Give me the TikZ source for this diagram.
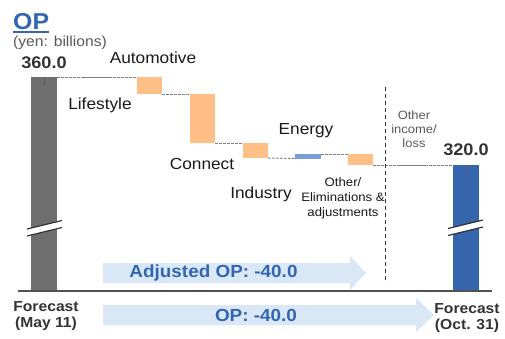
\documentclass[tikz,border=0pt]{standalone}
\usepackage{fontspec}
\setmainfont{Liberation Sans}[FakeStretch=1.08]
\usetikzlibrary{calc}
\definecolor{grayb}{HTML}{6E6E6E}
\definecolor{blueb}{HTML}{3565AC}
\definecolor{orangeb}{HTML}{FFBF86}
\definecolor{energyb}{HTML}{7A9DD6}
\definecolor{arrowfill}{HTML}{DAE7F7}
\definecolor{txtblue}{HTML}{3366B2}
\definecolor{darktxt}{HTML}{333333}
\definecolor{midgray}{HTML}{595959}
\definecolor{connc}{HTML}{808080}
\begin{document}
\begin{tikzpicture}[x=1pt,y=-1pt,
  bar/.style={draw=none,inner sep=0pt,outer sep=0pt,anchor=north west},
  conn/.style={draw=connc,line width=1pt,dash pattern=on 2.5pt off 1.5pt},
  connsolid/.style={draw=connc,line width=1pt},
  tickmark/.style={draw=darktxt!80,line width=1pt},
  breakline/.style={draw=darktxt,line width=1.2pt},
  lbl/.style={inner sep=0pt,font=\fontsize{16}{18}\selectfont,text=black!90},
  smalllbl/.style={inner sep=0pt,align=center,font=\fontsize{12.2}{15}\selectfont,text=black!90},
  grlbl/.style={inner sep=0pt,align=center,font=\fontsize{12}{14}\selectfont,text=midgray},
  val/.style={inner sep=0pt,font=\bfseries\fontsize{16.8}{18}\selectfont,text=darktxt},
  fc/.style={inner sep=0pt,align=center,font=\bfseries\fontsize{14.5}{16}\selectfont,text=darktxt},
  arrowtxt/.style={inner sep=0pt,font=\bfseries\fontsize{17.5}{19}\selectfont,text=txtblue}]
\useasboundingbox (0,0) rectangle (505,338);

% arrows
\fill[arrowfill] (103,263) -- (350,263) -- (350,256) -- (366,273) -- (350,290) -- (350,283) -- (103,283) -- cycle;
\fill[arrowfill] (103,305) -- (416,305) -- (416,298) -- (434,315) -- (416,332) -- (416,325) -- (103,325) -- cycle;
\node[arrowtxt] (adj) at (213.5,273) {Adjusted OP: -40.0};
\node[arrowtxt] (optot) at (256,315) {OP: -40.0};

% bars
\node[bar,fill=grayb,minimum width=26pt,minimum height=214pt] (fmay) at (31,77) {};
\node[bar,fill=blueb,minimum width=26pt,minimum height=126pt] (foct) at (453,165) {};
\node[bar,fill=orangeb,minimum width=25pt,minimum height=17pt] (auto) at (137,77) {};
\node[bar,fill=orangeb,minimum width=25pt,minimum height=49pt] (life) at (190,94) {};
\node[bar,fill=orangeb,minimum width=25pt,minimum height=15pt] (conn) at (243,143) {};
\node[bar,fill=energyb,minimum width=26pt,minimum height=4.5pt] (ener) at (295,154) {};
\node[bar,fill=orangeb,minimum width=25pt,minimum height=11pt] (oth) at (348,154) {};

% connectors
\draw[conn] (fmay.north east) -- (auto.north west);
\draw[connsolid] ($(fmay.north east)!0.33!(auto.north west)$) -- ($(fmay.north east)!0.66!(auto.north west)$);
\draw[conn] (auto.south east) -- (life.north west);
\draw[conn] (life.south east) -- (conn.north west);
\draw[conn] (conn.south east) -- (ener.south west);
\draw[conn] (ener.north east) -- (oth.north west);
\draw[conn] (oth.south east) -- (foct.north west);
\draw[connsolid] ($(oth.south east)!0.34!(foct.north west)$) -- ($(oth.south east)!0.67!(foct.north west)$);

% ticks
\coordinate (t1) at (44,86);
\coordinate (t2) at (466,174);
\draw[tickmark] (fmay.north) -- (t1);
\draw[tickmark] (foct.north) -- (t2);

% break marks
\fill[white] (27,229) -- (62,220.5) -- (62,227.5) -- (27,236) -- cycle;
\draw[breakline] (27,229) -- (62,220.5);
\draw[breakline] (27,236) -- (62,227.5);
\fill[white] (448,228.5) -- (483,220) -- (483,227) -- (448,235.5) -- cycle;
\draw[breakline] (448,228.5) -- (483,220);
\draw[breakline] (448,235.5) -- (483,227);

% dashed separator
\coordinate (sepT) at (385,87);
\coordinate (sepB) at (385,283);
\draw[draw=darktxt,line width=1pt,dash pattern=on 4pt off 3pt] (sepT) -- (sepB);

% axis
\coordinate (axL) at (18,291);
\coordinate (axR) at (492,291);
\draw[draw=darktxt!85,line width=1.2pt] (axL) -- (axR);

% title
\node[inner sep=0pt,anchor=base west,font=\bfseries\fontsize{23}{25}\selectfont,text=txtblue] (op) at (13,29) {OP};
\draw[txtblue,line width=1.4pt] ([yshift=-3pt]op.base west) -- ([yshift=-3pt]op.base east);
\node[inner sep=0pt,anchor=west,font=\fontsize{14.5}{16}\selectfont,text=midgray] (unit) at (13,43) {(yen: billions)};

% values
\node[val] (v360) at (44,63) {360.0};
\node[val] (v320) at (466,150) {320.0};

% labels
\node[lbl] (lauto) at (153,58) {Automotive};
\node[lbl] (llife) at (100,105) {Lifestyle};
\node[lbl] (lconn) at (202,164) {Connect};
\node[lbl] (lind) at (261,194) {Industry};
\node[lbl] (lener) at (306,131) {Energy};
\node[smalllbl] (loth) at (343,198) {Other/\\Eliminations \&\\adjustments};
\node[grlbl] (linc) at (414,129) {Other\\income/\\loss};

% forecast labels
\node[fc] (fcmay) at (46,316) {Forecast\\(May 11)};
\node[fc] (fcoct) at (467,318) {Forecast\\(Oct. 31)};
\end{tikzpicture}
\end{document}
